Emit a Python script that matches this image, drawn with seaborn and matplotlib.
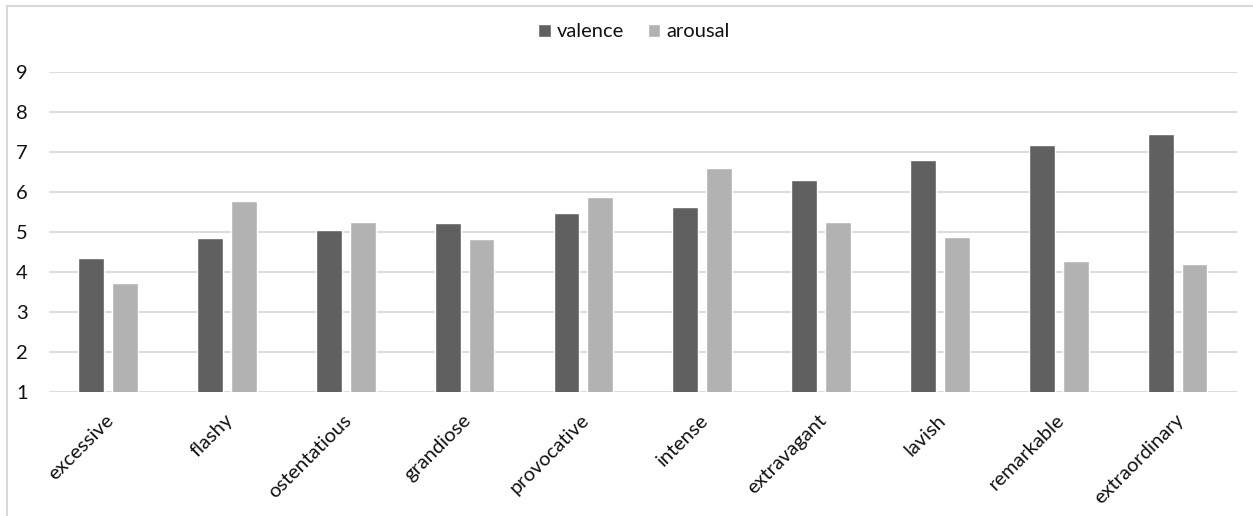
import numpy as np
import pandas as pd
import matplotlib.pyplot as plt
import matplotlib.transforms as mtransforms
from matplotlib.lines import Line2D
import seaborn as sns

words = ['excessive', 'flashy', 'ostentatious', 'grandiose', 'provocative',
         'intense', 'extravagant', 'lavish', 'remarkable', 'extraordinary']
valence = [4.36, 4.84, 5.04, 5.23, 5.47, 5.63, 6.31, 6.79, 7.18, 7.45]
arousal = [3.72, 5.77, 5.25, 4.83, 5.88, 6.60, 5.25, 4.88, 4.28, 4.20]
series = ['valence', 'arousal']
colors = {'valence': '#606060', 'arousal': '#b2b2b2'}

df = pd.DataFrame({
    'word': words * 2,
    'score': valence + arousal,
    'dim': [series[0]] * len(words) + [series[1]] * len(words),
})

sns.set_style('white')
plt.rcParams['font.family'] = ['Lato', 'DejaVu Sans']
txt = '#111111'
fs = 14.5

W, H = 1253, 516
fig = plt.figure(figsize=(W / 100, H / 100), dpi=100)
ax = fig.add_axes([48.7 / W, 1 - 392.3 / H, (1237 - 48.7) / W, (392.3 - 71.7) / H])

sns.barplot(data=df, x='word', y='score', hue='dim', palette=colors,
            width=0.57, gap=0.235, saturation=1, errorbar=None, ax=ax)

ax.set_ylim(1, 9)
ax.set_yticks(range(1, 10))
ax.set_xlabel('')
ax.set_ylabel('')
ax.yaxis.grid(True, color='#d9d9d9', linewidth=1.3)
ax.set_axisbelow(True)
for s in ax.spines.values():
    s.set_visible(False)
ax.tick_params(axis='y', length=0, pad=15, labelsize=fs, labelcolor=txt)
ax.tick_params(axis='x', length=0, pad=0, labelsize=fs, labelcolor=txt)

ax.set_xticks(range(len(words)))
ax.set_xticklabels(words, rotation=45, ha='right', va='top', rotation_mode='anchor')
off = mtransforms.ScaledTranslation(-3 / 100, -19 / 100, fig.dpi_scale_trans)
for lab in ax.get_xticklabels():
    lab.set_transform(lab.get_transform() + off)

handles, labels = ax.get_legend_handles_labels()
ax.get_legend().remove()
fig.legend(handles, labels, loc='center', bbox_to_anchor=(0.506, 0.938), ncol=2,
           frameon=False, handlelength=0.6, handleheight=0.6, handletextpad=0.3,
           columnspacing=1.2, fontsize=fs, labelcolor=txt)

# chart frame (left and top edges visible)
fig.add_artist(Line2D([6.5 / W, 6.5 / W], [0, 1 - 5.7 / H], transform=fig.transFigure,
                      color='#d9d9d9', linewidth=1.5))
fig.add_artist(Line2D([6.5 / W, 1], [1 - 5.7 / H, 1 - 5.7 / H], transform=fig.transFigure,
                      color='#d9d9d9', linewidth=1.5))

fig.savefig('out.png', dpi=100)
